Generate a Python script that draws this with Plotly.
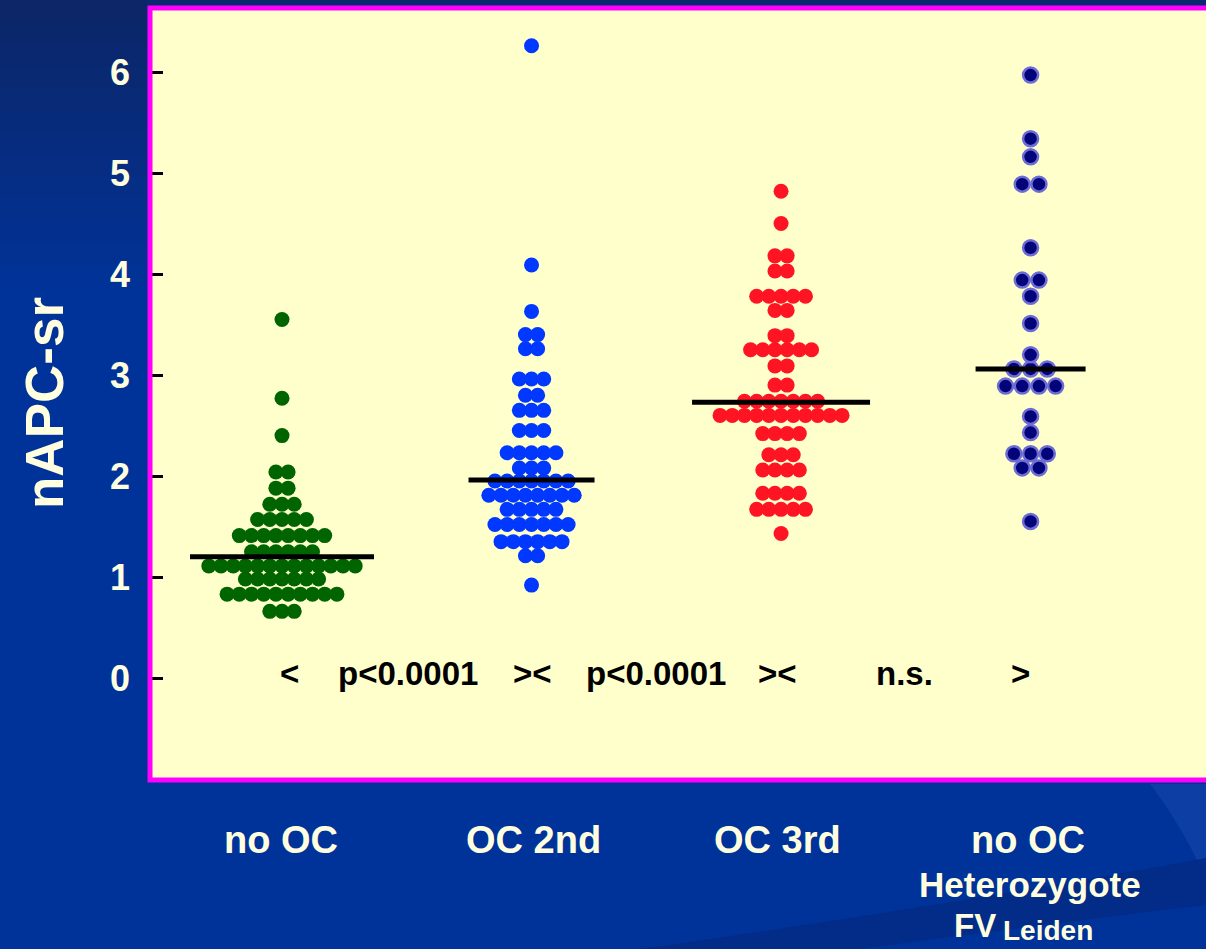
import plotly.graph_objects as go
from collections import Counter

# Canvas and plot-area geometry (pixels)
W, H = 1206, 949
M_L, M_R, M_T, M_B = 150, 0, 8, 169
X_RANGE = [-0.529, 3.703]
Y_RANGE = [-1.010, 6.634]

categories = ["no OC", "OC 2nd", "OC 3rd", "no OC"]
y_ticks = [0, 1, 2, 3, 4, 5, 6]

# nAPC-sr per subject, one entry per dot
no_oc = [0.66, 0.66, 0.66,
         0.83, 0.83, 0.83, 0.83, 0.83, 0.83, 0.83, 0.83, 0.83, 0.83,
         0.98, 0.98, 0.98, 0.98, 0.98, 0.98, 0.98,
         1.11, 1.11, 1.11, 1.11, 1.11, 1.11, 1.11, 1.11, 1.11, 1.11, 1.11, 1.11, 1.11,
         1.25, 1.25, 1.25, 1.25, 1.25, 1.25,
         1.41, 1.41, 1.41, 1.41, 1.41, 1.41, 1.41, 1.41,
         1.57, 1.57, 1.57, 1.57, 1.57,
         1.72, 1.72, 1.72,
         1.88, 1.88,
         2.04, 2.04,
         2.40, 2.77, 3.55]

oc_2nd = [0.92,
          1.21, 1.21,
          1.35, 1.35, 1.35, 1.35, 1.35, 1.35,
          1.52, 1.52, 1.52, 1.52, 1.52, 1.52, 1.52,
          1.67, 1.67, 1.67, 1.67, 1.67,
          1.81, 1.81, 1.81, 1.81, 1.81, 1.81, 1.81, 1.81,
          1.95, 1.95, 1.95, 1.95, 1.95, 1.95, 1.95,
          2.08, 2.08, 2.08,
          2.23, 2.23, 2.23, 2.23, 2.23,
          2.45, 2.45, 2.45,
          2.65, 2.65, 2.65,
          2.80, 2.80,
          2.96, 2.96, 2.96,
          3.26, 3.26,
          3.40, 3.40,
          3.63, 4.09, 6.26]

oc_3rd = [1.43,
          1.67, 1.67, 1.67, 1.67, 1.67,
          1.83, 1.83, 1.83, 1.83,
          2.06, 2.06, 2.06, 2.06,
          2.21, 2.21, 2.21,
          2.42, 2.42, 2.42, 2.42,
          2.60, 2.60, 2.60, 2.60, 2.60, 2.60, 2.60, 2.60, 2.60, 2.60, 2.60,
          2.74, 2.74, 2.74, 2.74, 2.74, 2.74, 2.74,
          2.90, 2.90,
          3.09, 3.09,
          3.25, 3.25, 3.25, 3.25, 3.25, 3.25,
          3.39, 3.39,
          3.64, 3.64,
          3.78, 3.78, 3.78, 3.78, 3.78,
          4.03, 4.03,
          4.18, 4.18,
          4.50, 4.82]

fv_leiden = [1.55,
             2.08, 2.08,
             2.22, 2.22, 2.22,
             2.43, 2.59,
             2.89, 2.89, 2.89, 2.89,
             3.06, 3.06, 3.06,
             3.20, 3.51, 3.78,
             3.94, 3.94,
             4.26,
             4.89, 4.89,
             5.16, 5.34, 5.97]

group_lines = [1.20, 1.96, 2.73, 3.06]

PX_PER_X = (W - M_L - M_R) / (X_RANGE[1] - X_RANGE[0])


def swarm(values, center, step_px):
    """Spread equal values side by side, centred on the group position."""
    step = step_px / PX_PER_X
    counts = Counter(values)
    seen = {}
    xs = []
    for v in values:
        n = counts[v]
        i = seen.get(v, 0)
        seen[v] = i + 1
        xs.append(center + (i - (n - 1) / 2) * step)
    return xs, list(values)


def px_x(p):
    return (p - M_L) / (W - M_L - M_R)


def px_y(p):
    return (H - M_B - p) / (H - M_T - M_B)


fig = go.Figure()

groups = [
    (no_oc, "#006400", None, 15, 12.2),
    (oc_2nd, "#0038FF", None, 15, 12.2),
    (oc_3rd, "#FF1424", None, 15, 12.2),
    (fv_leiden, "#04047A", "#6C6CD4", 15, 16.7),
]
line_half_px = [92, 63, 89, 55]

for k, (vals, color, edge, size, step_px) in enumerate(groups):
    xs, ys = swarm(vals, k, step_px)
    marker = dict(color=color, size=size, opacity=1)
    if edge:
        marker["line"] = dict(color=edge, width=2.5)
    else:
        marker["line"] = dict(width=0)
    fig.add_trace(go.Scatter(x=xs, y=ys, mode="markers", marker=marker,
                             showlegend=False, hoverinfo="y"))

for k, m in enumerate(group_lines):
    hw = line_half_px[k] / PX_PER_X
    fig.add_trace(go.Scatter(x=[k - hw, k + hw], y=[m, m], mode="lines",
                             line=dict(color="black", width=5),
                             showlegend=False, hoverinfo="skip"))


def blend(c1, c2, t):
    a = [int(c1[i:i + 2], 16) for i in (1, 3, 5)]
    b = [int(c2[i:i + 2], 16) for i in (1, 3, 5)]
    return "#" + "".join(f"{round(x + (y - x) * t):02x}" for x, y in zip(a, b))


shapes = []
# slide background: darker towards the top-left corner
n_bands = 14
for i in range(n_bands):
    c = blend("#0c2668", "#003399", i / (n_bands - 1))
    shapes.append(dict(type="rect", xref="paper", yref="paper",
                       x0=px_x(0), x1=px_x(M_L - 3),
                       y0=px_y((i + 1) * 22), y1=px_y(i * 22),
                       fillcolor=c, line=dict(width=0), layer="below"))
shapes.append(dict(type="rect", xref="paper", yref="paper",
                   x0=px_x(M_L - 3), x1=px_x(W), y0=px_y(8), y1=px_y(0),
                   fillcolor="#0a2770", line=dict(width=0), layer="below"))


def pp(x, y):
    return f"{px_x(x):.4f},{px_y(y):.4f}"


# lighter swoosh at the bottom right
shapes.append(dict(type="path", xref="paper", yref="paper",
                   path=(f"M{pp(1150, 784)} Q{pp(1185, 830)} {pp(1206, 880)} "
                         f"L{pp(1206, 784)} Z"),
                   fillcolor="#0d3ea4", line=dict(width=0), layer="below"))
shapes.append(dict(type="path", xref="paper", yref="paper",
                   path=(f"M{pp(640, 949)} Q{pp(950, 905)} {pp(1206, 858)} "
                         f"L{pp(1206, 905)} Q{pp(1000, 930)} {pp(860, 949)} Z"),
                   fillcolor="#022c88", line=dict(width=0), layer="below"))
# magenta frame round the plot area (right side runs off the page)
shapes.append(dict(type="rect", xref="paper", yref="paper",
                   x0=0, x1=1.05, y0=0, y1=1,
                   line=dict(color="#FF00FF", width=5), layer="above"))

FONT = "Liberation Sans, Arial, sans-serif"
CREAM = "#FFFFE0"
annotations = []

# comparison marks along the bottom of the plot
stats = [("<", 289), ("p<0.0001", 408), ("><", 532), ("p<0.0001", 656),
         ("><", 777), ("n.s.", 904), (">", 1020)]
for txt, xp in stats:
    annotations.append(dict(text=f"<b>{txt}</b>", xref="paper", yref="paper",
                            x=px_x(xp), y=px_y(673), xanchor="center", yanchor="middle",
                            showarrow=False,
                            font=dict(family=FONT, size=33, color="black")))

# category labels under the plot
label_x = [281, 533, 777, 1028]
for txt, xp in zip(categories, label_x):
    annotations.append(dict(text=f"<b>{txt}</b>", xref="paper", yref="paper",
                            x=px_x(xp), y=px_y(840), xanchor="center", yanchor="middle",
                            showarrow=False,
                            font=dict(family=FONT, size=38, color=CREAM)))
annotations.append(dict(text="<b>Heterozygote</b>", xref="paper", yref="paper",
                        x=px_x(1030), y=px_y(884), xanchor="center", yanchor="middle",
                        showarrow=False,
                        font=dict(family=FONT, size=35, color=CREAM)))
annotations.append(dict(text="<b>FV</b>", xref="paper", yref="paper",
                        x=px_x(998), y=px_y(925), xanchor="right", yanchor="middle",
                        showarrow=False,
                        font=dict(family=FONT, size=33, color=CREAM)))
annotations.append(dict(text="<b>Leiden</b>", xref="paper", yref="paper",
                        x=px_x(1001), y=px_y(930), xanchor="left", yanchor="middle",
                        showarrow=False,
                        font=dict(family=FONT, size=28, color=CREAM)))
# y axis title
annotations.append(dict(text="<b>nAPC-sr</b>", xref="paper", yref="paper",
                        x=px_x(44), y=px_y(403), xanchor="center", yanchor="middle",
                        textangle=-90, showarrow=False,
                        font=dict(family=FONT, size=53, color=CREAM)))

fig.update_layout(
    width=W, height=H,
    margin=dict(l=M_L, r=M_R, t=M_T, b=M_B, pad=0),
    paper_bgcolor="#003399",
    plot_bgcolor="#FFFFCC",
    shapes=shapes,
    annotations=annotations,
    xaxis=dict(range=X_RANGE, showticklabels=False, showgrid=False,
               zeroline=False, showline=False, ticks=""),
    yaxis=dict(range=Y_RANGE, tickvals=y_ticks, ticktext=[str(t) for t in y_ticks],
               ticks="inside", ticklen=13, tickwidth=3, tickcolor="black",
               showgrid=False, zeroline=False, showline=False,
               ticklabelstandoff=19,
               tickfont=dict(family=FONT, size=36, color=CREAM, weight="bold")),
)

fig.write_html("out.html")
